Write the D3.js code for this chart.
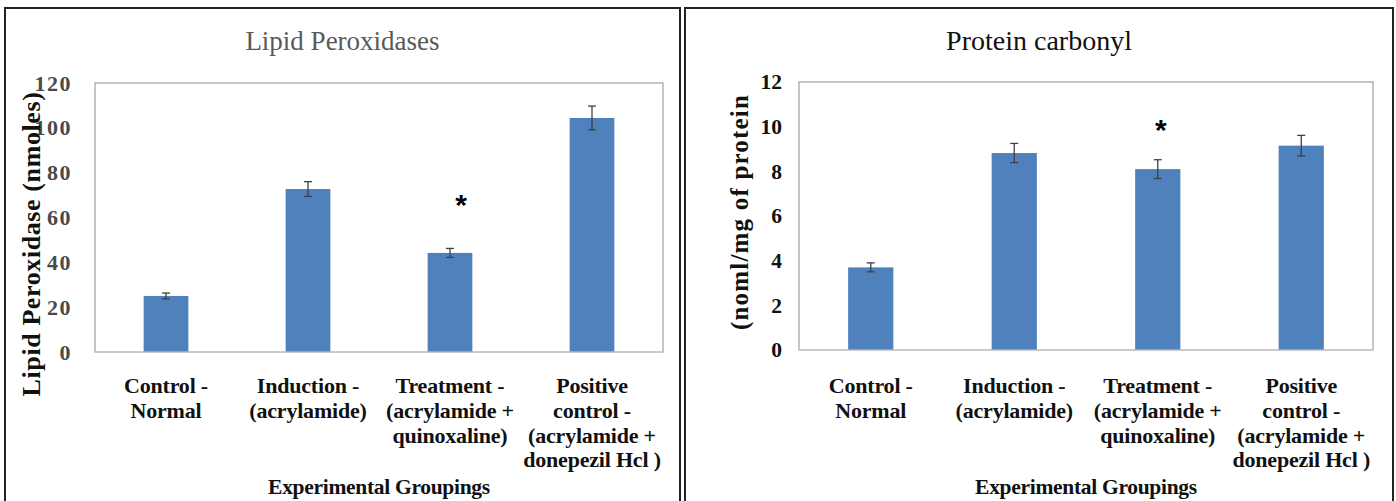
<!DOCTYPE html>
<html lang='en'>

<head>
   <meta charset='UTF-8'>
   <title>Lipid Peroxidases / Protein carbonyl</title>
   <script src='https://d3js.org/d3.v7.min.js'></script>
   <style>
      body {
         margin: 0;
         background: #fff;
      }

      text {
         font-family: 'Liberation Serif', 'Times New Roman', serif;
      }
   </style>
</head>

<body>
   <div id='svg-container'></div>
   <script>

      // group labels, one entry per line of the wrapped label
      const categories = [
         ['Control -', 'Normal'],
         ['Induction -', '(acrylamide)'],
         ['Treatment -', '(acrylamide +', 'quinoxaline)'],
         ['Positive', 'control -', '(acrylamide +', 'donepezil Hcl )']
      ];

      const lipidValues = [25, 72.7, 44.2, 104.4];
      const lipidErrors = [1.3, 3.3, 2.0, 5.3];
      const lipidTicks = [0, 20, 40, 60, 80, 100, 120];

      const carbonylValues = [3.7, 8.82, 8.1, 9.15];
      const carbonylErrors = [0.2, 0.43, 0.42, 0.46];
      const carbonylTicks = [0, 2, 4, 6, 8, 10, 12];

      // significance marks: [category index, value where the * sits]
      const lipidStar = [2, 67];
      const carbonylStar = [2, 10];

      const W = 1396, H = 501;
      const svg = d3.select('#svg-container').append('svg').attr('width', W).attr('height', H);

      const panels = [
         {
            frame: [5, 8, 675], plot: { left: 95, right: 663, top: 83, bottom: 352 },
            title: 'Lipid Peroxidases', titleColor: '#595959', titleSize: 27,
            tickColor: '#4a4a4a', tickSize: 22, tickSpacing: 1.5, tickGap: 23,
            yLabel: 'Lipid Peroxidase (nmoles)', yLabelX: 31, yLabelY: 244, yLabelSize: 26, yLabelSpacing: 0.6,
            values: lipidValues, errors: lipidErrors, ticks: lipidTicks, max: 120,
            star: lipidStar, starDx: 11
         },
         {
            frame: [685, 8, 708], plot: { left: 799, right: 1373, top: 82, bottom: 350 },
            title: 'Protein carbonyl', titleColor: '#111', titleSize: 28,
            tickColor: '#111', tickSize: 21.5, tickSpacing: 0, tickGap: 17,
            yLabel: '(noml/mg of protein', yLabelX: 739, yLabelY: 212, yLabelSize: 25, yLabelSpacing: 1.2,
            values: carbonylValues, errors: carbonylErrors, ticks: carbonylTicks, max: 12,
            star: carbonylStar, starDx: 3
         }
      ];

      panels.forEach(p => {
         const [fx, fy, fw] = p.frame;
         svg.append('rect')
            .attr('x', fx).attr('y', fy)
            .attr('width', fw).attr('height', H)
            .attr('fill', 'none')
            .attr('stroke', '#222')
            .attr('stroke-width', 2);

         svg.append('text')
            .attr('x', fx + fw / 2)
            .attr('y', 50)
            .attr('text-anchor', 'middle')
            .attr('font-size', p.titleSize + 'px')
            .attr('fill', p.titleColor)
            .text(p.title);

         const pl = p.plot;
         const x = d3.scaleBand()
            .domain(d3.range(categories.length))
            .range([pl.left, pl.right])
            .paddingInner(0.685)
            .paddingOuter(0.3425);

         const y = d3.scaleLinear().domain([0, p.max]).range([pl.bottom, pl.top]);

         // plot area frame
         svg.append('rect')
            .attr('x', pl.left).attr('y', pl.top)
            .attr('width', pl.right - pl.left).attr('height', pl.bottom - pl.top)
            .attr('fill', 'none')
            .attr('stroke', '#8c8c8c')
            .attr('stroke-width', 1);

         // y axis tick labels only
         const yAxis = svg.append('g')
            .attr('transform', `translate(${pl.left - p.tickGap + 3}, 0)`)
            .call(d3.axisLeft(y).tickValues(p.ticks).tickSize(0).tickPadding(3));
         yAxis.select('.domain').remove();
         yAxis.selectAll('text')
            .attr('font-size', p.tickSize + 'px')
            .attr('font-weight', 'bold')
            .attr('letter-spacing', p.tickSpacing + 'px')
            .attr('fill', p.tickColor);

         // bars
         svg.append('g').selectAll('rect').data(p.values)
            .join('rect')
            .attr('x', (d, i) => x(i))
            .attr('width', x.bandwidth())
            .attr('y', d => y(d))
            .attr('height', d => y(0) - y(d))
            .attr('fill', '#4f81bd');

         // baseline
         svg.append('line')
            .attr('x1', pl.left).attr('x2', pl.right)
            .attr('y1', y(0)).attr('y2', y(0))
            .attr('stroke', '#d0d0d0');

         // error bars
         const eb = svg.append('g').attr('stroke', '#404040').attr('stroke-width', 1.3);
         p.values.forEach((v, i) => {
            const cx = x(i) + x.bandwidth() / 2;
            const e = p.errors[i];
            eb.append('line').attr('x1', cx).attr('x2', cx).attr('y1', y(v + e)).attr('y2', y(v - e));
            eb.append('line').attr('x1', cx - 4).attr('x2', cx + 4).attr('y1', y(v + e)).attr('y2', y(v + e));
            eb.append('line').attr('x1', cx - 4).attr('x2', cx + 4).attr('y1', y(v - e)).attr('y2', y(v - e));
         });

         // significance asterisk
         svg.append('text')
            .attr('x', x(p.star[0]) + x.bandwidth() / 2 + p.starDx)
            .attr('y', y(p.star[1]) + 13)
            .attr('text-anchor', 'middle')
            .attr('font-size', '30px')
            .attr('font-weight', 'bold')
            .style('font-family', "'Liberation Sans', sans-serif")
            .text('*');

         // category labels
         categories.forEach((lines, i) => {
            const t = svg.append('text')
               .attr('text-anchor', 'middle')
               .attr('font-size', '22px')
               .attr('font-weight', 'bold')
               .attr('letter-spacing', '-0.2px')
               .attr('fill', '#111');
            lines.forEach((ln, j) => {
               t.append('tspan')
                  .attr('x', x(i) + x.bandwidth() / 2)
                  .attr('y', 393 + j * 24.8)
                  .text(ln);
            });
         });

         // x axis title
         svg.append('text')
            .attr('x', (pl.left + pl.right) / 2)
            .attr('y', 494)
            .attr('text-anchor', 'middle')
            .attr('font-size', '21.5px')
            .attr('font-weight', 'bold')
            .attr('letter-spacing', '-0.3px')
            .attr('fill', '#111')
            .text('Experimental Groupings');

         // y axis title
         svg.append('text')
            .attr('transform', `translate(${p.yLabelX}, ${p.yLabelY}) rotate(-90)`)
            .attr('text-anchor', 'middle')
            .attr('dy', '0.35em')
            .attr('font-size', p.yLabelSize + 'px')
            .attr('font-weight', 'bold')
            .attr('letter-spacing', p.yLabelSpacing + 'px')
            .attr('fill', '#111')
            .text(p.yLabel);
      });

   </script>
</body>

</html>
